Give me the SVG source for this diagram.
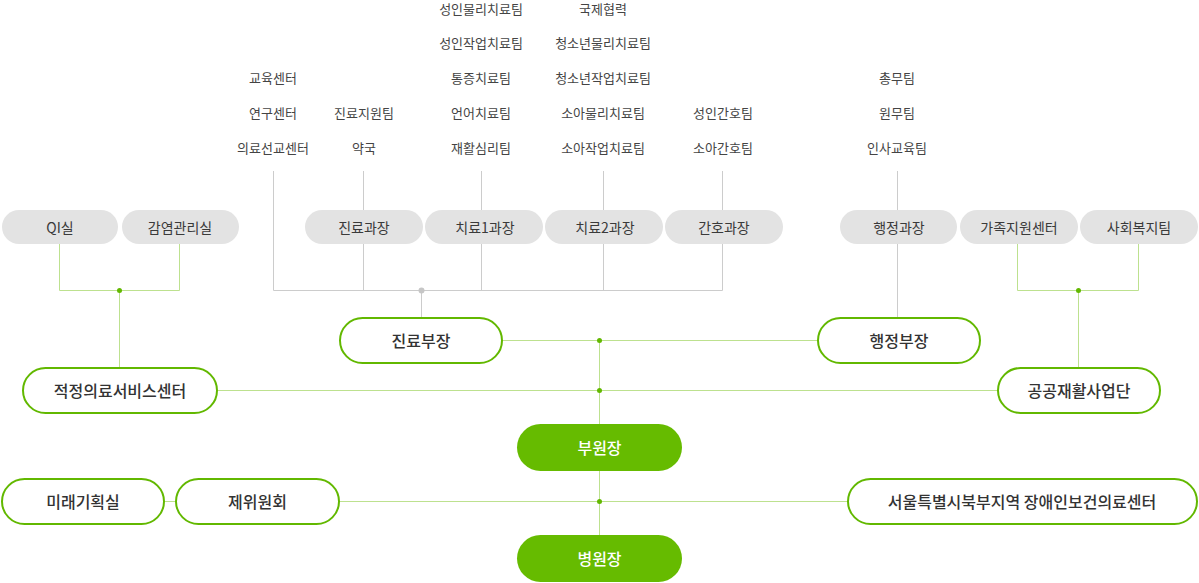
<svg xmlns="http://www.w3.org/2000/svg" width="1199" height="583" viewBox="0 0 1199 583">
<style>
text{font-family:"Noto Sans CJK KR","Noto Sans",sans-serif;text-anchor:middle;dominant-baseline:central;fill:#333}
.lst{font-size:13px;fill:#444}
.gp rect{fill:#e3e3e3}
.gp text{font-size:14px;fill:#3a3a3a}
.ol rect{fill:#fff;stroke:#62b800;stroke-width:2}
.ol text{font-size:16px;font-weight:500;fill:#333}
.fl rect{fill:#66bb00}
.fl text{font-size:16px;font-weight:500;fill:#fff}
.gl{stroke:#cccccc;stroke-width:1;fill:none}
.ll{stroke:#bde18f;stroke-width:1;fill:none}
.gd{fill:#62b800}
.dd{fill:#c6c6c6}
</style>
<rect width="1199" height="583" fill="#fff"/>
<g id="connectors">
<path class="gl" d="M273.5 171V290.5H722.5V171M363.5 171V210M363.5 244V290.5M481.5 171V210M481.5 244V290.5M603.5 171V210M603.5 244V290.5M722.5 244V210M421.5 290.5V317"/>
<path class="gl" d="M897.5 171V210M897.5 244V317"/>
<path class="ll" d="M59.5 244V290.5H179.5V244M119.5 290.5V368"/>
<path class="ll" d="M1017.5 244V290.5H1138.5V244M1078.5 290.5V367"/>
<path class="ll" d="M502 340.5H817M217 390.5H997M599.5 340.5V424M599.5 471V535M164 501.5H176M339 501.5H848"/>
<circle class="dd" cx="421.5" cy="290.5" r="3"/>
<circle class="gd" cx="119.5" cy="290.5" r="2.5"/>
<circle class="gd" cx="1078.5" cy="290.5" r="2.5"/>
<circle class="gd" cx="599.5" cy="340.5" r="2.5"/>
<circle class="gd" cx="599.5" cy="390.5" r="2.5"/>
<circle class="gd" cx="599.5" cy="501.5" r="2.5"/>
</g>
<g id="lists">
<text class="lst" x="273" y="77">교육센터</text>
<text class="lst" x="273" y="112">연구센터</text>
<text class="lst" x="273" y="147">의료선교센터</text>
<text class="lst" x="364" y="112">진료지원팀</text>
<text class="lst" x="364" y="147">약국</text>
<text class="lst" x="481" y="8.5">성인물리치료팀</text>
<text class="lst" x="481" y="42">성인작업치료팀</text>
<text class="lst" x="481" y="77">통증치료팀</text>
<text class="lst" x="481" y="112">언어치료팀</text>
<text class="lst" x="481" y="147">재활심리팀</text>
<text class="lst" x="603" y="8.5">국제협력</text>
<text class="lst" x="603" y="42">청소년물리치료팀</text>
<text class="lst" x="603" y="77">청소년작업치료팀</text>
<text class="lst" x="603" y="112">소아물리치료팀</text>
<text class="lst" x="603" y="147">소아작업치료팀</text>
<text class="lst" x="723" y="112">성인간호팀</text>
<text class="lst" x="723" y="147">소아간호팀</text>
<text class="lst" x="897" y="77">총무팀</text>
<text class="lst" x="897" y="112">원무팀</text>
<text class="lst" x="897" y="147">인사교육팀</text>
</g>
<g id="qi" class="gp"><rect x="2" y="210" width="116" height="34" rx="17"/><text x="60" y="227">QI실</text></g>
<g id="infection" class="gp"><rect x="122" y="210" width="117" height="34" rx="17"/><text x="180" y="227">감염관리실</text></g>
<g id="clinic-chief" class="gp"><rect x="305" y="210" width="118" height="34" rx="17"/><text x="364" y="227">진료과장</text></g>
<g id="therapy1" class="gp"><rect x="425" y="210" width="118" height="34" rx="17"/><text x="485" y="227">치료1과장</text></g>
<g id="therapy2" class="gp"><rect x="545" y="210" width="118" height="34" rx="17"/><text x="605" y="227">치료2과장</text></g>
<g id="nursing" class="gp"><rect x="665" y="210" width="118" height="34" rx="17"/><text x="724" y="227">간호과장</text></g>
<g id="admin-chief" class="gp"><rect x="840" y="210" width="117" height="34" rx="17"/><text x="899" y="227">행정과장</text></g>
<g id="family" class="gp"><rect x="960" y="210" width="118" height="34" rx="17"/><text x="1019" y="227">가족지원센터</text></g>
<g id="welfare" class="gp"><rect x="1080" y="210" width="118" height="34" rx="17"/><text x="1139" y="227">사회복지팀</text></g>
<g id="clinical-dept" class="ol"><rect x="340" y="318" width="162" height="45" rx="22.5"/><text x="421" y="340">진료부장</text></g>
<g id="admin-dept" class="ol"><rect x="818" y="318" width="162" height="45" rx="22.5"/><text x="899" y="340">행정부장</text></g>
<g id="quality-center" class="ol"><rect x="23" y="368" width="194" height="45" rx="22.5"/><text x="120" y="390">적정의료서비스센터</text></g>
<g id="public-rehab" class="ol"><rect x="998" y="368" width="162" height="45" rx="22.5"/><text x="1079" y="390">공공재활사업단</text></g>
<g id="vice-director" class="fl"><rect x="517" y="424" width="165" height="47" rx="23.5"/><text x="599.5" y="447">부원장</text></g>
<g id="future" class="ol"><rect x="2" y="479" width="162" height="45" rx="22.5"/><text x="83" y="501">미래기획실</text></g>
<g id="committee" class="ol"><rect x="176" y="479" width="163" height="45" rx="22.5"/><text x="257.5" y="501">제위원회</text></g>
<g id="seoul-center" class="ol"><rect x="848" y="479" width="349" height="45" rx="22.5"/><text x="1022" y="501">서울특별시북부지역 장애인보건의료센터</text></g>
<g id="director" class="fl"><rect x="517" y="535" width="165" height="47" rx="23.5"/><text x="599.5" y="558">병원장</text></g>
</svg>
